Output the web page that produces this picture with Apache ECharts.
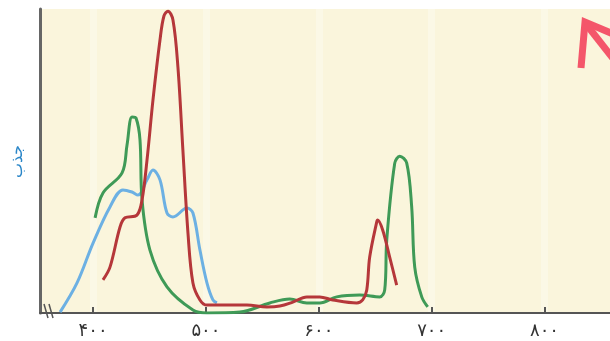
<!DOCTYPE html>
<html>
<head>
<meta charset="utf-8">
<script src="https://cdn.jsdelivr.net/npm/echarts@6/dist/echarts.min.js"></script>
<style>html,body{margin:0;padding:0;background:#fff}#c{width:610px;height:341px}</style>
</head>
<body>
<div id="c"></div>
<script>
var tickValues = [400, 500, 600, 700, 800];
var tickLabels = ['۴۰۰', '۵۰۰', '۶۰۰', '۷۰۰', '۸۰۰'];
var yAxisName = 'جذب';

var greenCurve = [
  [401.8,31.3],[408.8,39.5],[425.7,46.1],[430.1,55.3],[434.5,64.5],[438.1,64.1],[441.6,56.9],
  [443.4,37.2],[450.4,20.7],[465.5,8.6],[488.5,1.0],[500.9,0],[530.1,0.3],[556.6,3.3],
  [574.3,4.6],[589.4,3.3],[600.9,3.3],[615.9,5.3],[636.3,5.9],[654.0,5.3],[658.4,7.6],
  [660.2,24.0],[667.3,49.3],[671.7,51.6],[677.9,49.3],[682.3,34.9],[685.0,15.1],[691.2,5.3],[696.5,2.0]
];
var redCurve = [
  [408.8,10.9],[415.0,15.1],[423.9,28.3],[428.3,31.3],[438.9,32.2],[443.4,37.2],[447.8,50.3],
  [453.1,70.1],[459.3,89.8],[462.8,97.7],[466.4,99.3],[470.8,96.4],[475.2,80.9],[479.6,53.6],
  [484.1,26.3],[488.5,9.9],[494.7,4.3],[500.9,2.6],[536.3,2.6],[554.0,2.0],[565.5,2.3],
  [577.0,3.6],[589.4,5.3],[600.9,5.3],[612.4,4.3],[633.6,3.3],[638.9,4.3],[642.5,7.6],
  [645.1,18.4],[651.3,29.9],[652.2,30.6],[656.6,27.3],[662.8,18.4],[669.0,9.2]
];
var blueCurve = [
  [370.8,0.3],[385.8,9.9],[400.0,23.0],[415.0,34.9],[426.5,40.5],[434.5,39.8],[439.8,38.8],
  [447.8,43.8],[453.1,47.0],[459.3,43.8],[465.5,32.9],[470.8,31.6],[483.2,34.5],[488.5,32.9],
  [494.7,20.7],[500.9,9.9],[506.2,4.3],[509.7,3.3]
];

var chart = echarts.init(document.getElementById('c'), null, {renderer: 'canvas'});
function line(data, color) {
  return {
    type: 'line', data: data, smooth: 0.35, showSymbol: false, symbol: 'none',
    lineStyle: {color: color, width: 3}, z: 3, animation: false
  };
}
chart.setOption({
  animation: false,
  grid: {left: 40, right: 0, top: 9, bottom: 28, show: true, backgroundColor: '#faf5dc', borderWidth: 0},
  xAxis: {
    type: 'value', min: 353, max: 858,
    axisLine: {show: true, onZero: false, lineStyle: {color: '#555', width: 2}},
    axisTick: {show: true, inside: true, length: 6, customValues: tickValues, lineStyle: {color: '#555', width: 2}},
    axisLabel: {
      customValues: tickValues, margin: 9, color: '#333', fontSize: 18, fontFamily: 'DejaVu Sans',
      formatter: function (v) { var i = tickValues.indexOf(v); return i >= 0 ? tickLabels[i] : ''; }
    },
    splitLine: {show: true, lineStyle: {color: 'rgba(255,255,255,0.3)', width: 7}}
  },
  yAxis: {
    type: 'value', min: 0, max: 100,
    name: yAxisName, nameLocation: 'middle', nameRotate: 90, nameGap: 15,
    nameTextStyle: {color: '#2a86c8', fontSize: 16, fontFamily: 'Noto Sans'},
    axisLine: {show: true, lineStyle: {color: '#666', width: 3}},
    axisTick: {show: false}, axisLabel: {show: false}, splitLine: {show: false}
  },
  series: [line(blueCurve, '#6cb0e3'), line(greenCurve, '#3f9a57'), line(redCurve, '#b5373a')],
  graphic: [
    {type: 'line', shape: {x1: 44, y1: 304, x2: 48, y2: 318}, style: {stroke: '#555', lineWidth: 1.5}, z: 10},
    {type: 'line', shape: {x1: 49, y1: 304, x2: 53, y2: 318}, style: {stroke: '#555', lineWidth: 1.5}, z: 10},
    {type: 'polyline', shape: {points: [[581, 68], [585, 22], [618, 36]]}, style: {stroke: '#f4566a', lineWidth: 7, fill: null}, z: 10},
    {type: 'line', shape: {x1: 586, y1: 24, x2: 630, y2: 80}, style: {stroke: '#f4566a', lineWidth: 7}, z: 10}
  ]
});
</script>
</body>
</html>
